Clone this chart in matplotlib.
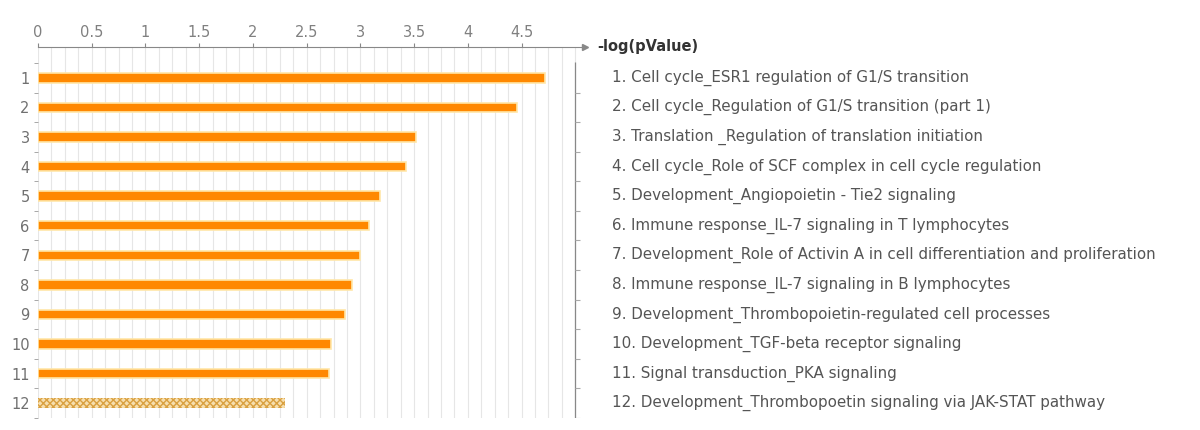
import numpy as np
import matplotlib.pyplot as plt
from matplotlib.ticker import MultipleLocator

# Dữ liệu
ranks = list(range(1, 13))
log_p = [4.72, 4.46, 3.52, 3.42, 3.18, 3.08, 3.00, 2.92, 2.86, 2.73, 2.71, 2.30]
pathways = [
    "Cell cycle_ESR1 regulation of G1/S transition",
    "Cell cycle_Regulation of G1/S transition (part 1)",
    "Translation _Regulation of translation initiation",
    "Cell cycle_Role of SCF complex in cell cycle regulation",
    "Development_Angiopoietin - Tie2 signaling",
    "Immune response_IL-7 signaling in T lymphocytes",
    "Development_Role of Activin A in cell differentiation and proliferation",
    "Immune response_IL-7 signaling in B lymphocytes",
    "Development_Thrombopoietin-regulated cell processes",
    "Development_TGF-beta receptor signaling",
    "Signal transduction_PKA signaling",
    "Development_Thrombopoetin signaling via JAK-STAT pathway",
]
xticks = [0, 0.5, 1, 1.5, 2, 2.5, 3, 3.5, 4, 4.5]

fig = plt.figure(figsize=(12, 4.3), dpi=100)
ax = fig.add_axes([38 / 1200, 1 - 418 / 430, (585 - 38) / 1200, (418 - 47) / 430])
ax.set_xlim(0, 5.09)
ax.set_ylim(12.5, -0.04)

# Lưới dọc
ax.xaxis.set_minor_locator(MultipleLocator(0.125))
ax.grid(True, which='both', axis='x', color='#e6e6e6', linewidth=0.8)
ax.set_axisbelow(True)

# Thanh
for r, v in zip(ranks, log_p):
    if r == 12:
        ax.barh(r, v, height=0.32, color='#f7dfae', edgecolor='#d9a040',
                hatch='xxxxx', linewidth=0)
    else:
        ax.barh(r, v, height=0.32, color='#ff8800', edgecolor='#ffe6a8', linewidth=1.2)

# Trục
for s in ['left', 'right', 'bottom']:
    ax.spines[s].set_visible(False)
ax.spines['top'].set_color('#888888')
ax.xaxis.tick_top()
ax.set_xticks(xticks)
ax.set_xticklabels([f"{t:g}" for t in xticks])
ax.tick_params(axis='x', which='major', colors='#888888', labelcolor='#808080',
               labelsize=10.5, length=3, pad=2)
ax.tick_params(axis='x', which='minor', length=0)
ax.set_yticks(ranks)
ax.set_yticklabels([str(r) for r in ranks])
ax.set_yticks(np.arange(0.5, 13, 1), minor=True)
ax.tick_params(axis='y', which='major', length=0, labelsize=10.5, labelcolor='#707070', pad=6)
ax.tick_params(axis='y', which='minor', length=3, color='#999999', direction='out')

ax.plot([1], [1], marker='>', color='#888888', markersize=4,
        transform=ax.transAxes, clip_on=False)
ax.text(5.2, -0.04, "-log(pValue)", fontsize=10.5, fontweight='bold', color='#333333',
        va='center', ha='left', clip_on=False)

# Đường dọc bên phải
ax.vlines(5.0, 0.47, 12.5, color='#888888', linewidth=0.9)
ax.hlines(np.arange(1.5, 13, 1), 5.0, 5.04, color='#aaaaaa', linewidth=0.8)

for r, name in zip(ranks, pathways):
    ax.text(5.34, r, f"{r}. {name}", fontsize=10.9, color='#555555',
            va='center', ha='left', clip_on=False)

fig.savefig('out.png', dpi=100)
